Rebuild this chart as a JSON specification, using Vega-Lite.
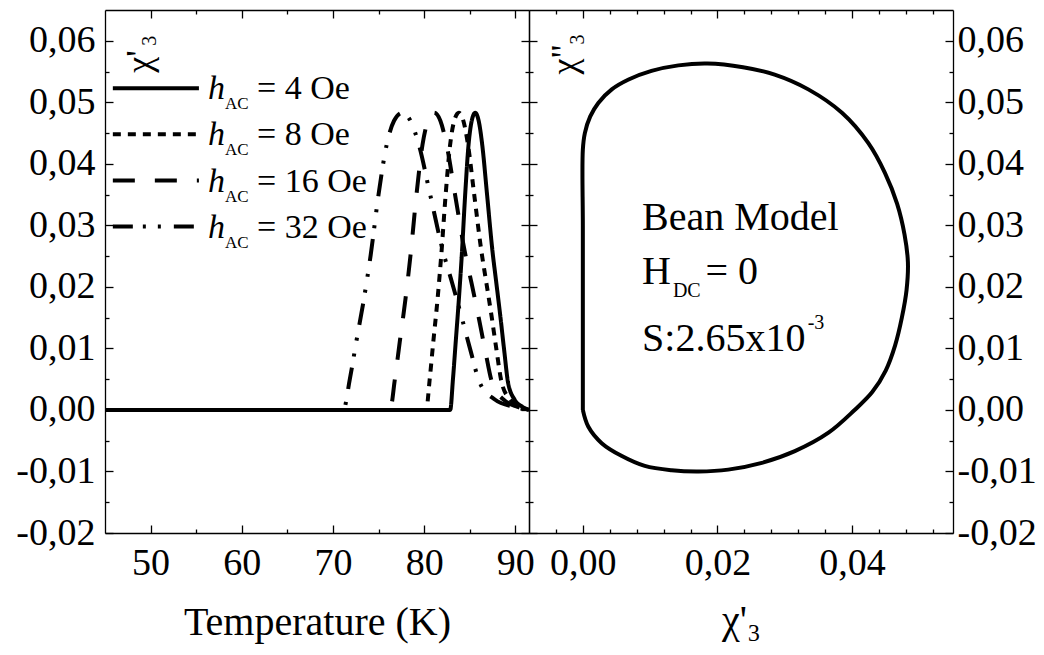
{
  "$schema": "https://vega.github.io/schema/vega-lite/v6.json",
  "background": "white",
  "padding": {"left": 15, "top": 9, "right": 2, "bottom": 2},
  "spacing": 0,
  "bounds": "flush",
  "config": {
    "view": {"stroke": null},
    "axis": {"grid": false, "domainColor": "black", "domainWidth": 1.3, "tickColor": "black", "tickWidth": 1.3,
      "labelOverlap": false, "labelFlush": false, "labelBound": false}
  },
  "datasets": {
    "curves": [
      {"s": "4 Oe", "T": 45, "v": 0}, {"s": "4 Oe", "T": 82.86, "v": 0}, {"s": "4 Oe", "T": 83.16, "v": 0.005}, {"s": "4 Oe", "T": 83.46, "v": 0.011}, {"s": "4 Oe", "T": 83.81, "v": 0.018}, {"s": "4 Oe", "T": 84.13, "v": 0.0252}, {"s": "4 Oe", "T": 84.5, "v": 0.035}, {"s": "4 Oe", "T": 84.87, "v": 0.0431}, {"s": "4 Oe", "T": 85.22, "v": 0.047}, {"s": "4 Oe", "T": 85.6, "v": 0.0483}, {"s": "4 Oe", "T": 85.98, "v": 0.047}, {"s": "4 Oe", "T": 86.37, "v": 0.0431}, {"s": "4 Oe", "T": 86.9, "v": 0.035}, {"s": "4 Oe", "T": 87.48, "v": 0.026}, {"s": "4 Oe", "T": 87.92, "v": 0.0206}, {"s": "4 Oe", "T": 88.36, "v": 0.0152}, {"s": "4 Oe", "T": 88.77, "v": 0.0098}, {"s": "4 Oe", "T": 89.21, "v": 0.0044}, {"s": "4 Oe", "T": 89.91, "v": 0.0017}, {"s": "4 Oe", "T": 90.79, "v": 0.0005}, {"s": "4 Oe", "T": 91.5, "v": 0},
      {"s": "8 Oe", "T": 45, "v": 0}, {"s": "8 Oe", "T": 80.22, "v": 0}, {"s": "8 Oe", "T": 80.61, "v": 0.005}, {"s": "8 Oe", "T": 81.0, "v": 0.011}, {"s": "8 Oe", "T": 81.47, "v": 0.018}, {"s": "8 Oe", "T": 81.88, "v": 0.0252}, {"s": "8 Oe", "T": 82.36, "v": 0.035}, {"s": "8 Oe", "T": 82.85, "v": 0.0431}, {"s": "8 Oe", "T": 83.3, "v": 0.047}, {"s": "8 Oe", "T": 83.8, "v": 0.0483}, {"s": "8 Oe", "T": 84.3, "v": 0.047}, {"s": "8 Oe", "T": 84.81, "v": 0.0431}, {"s": "8 Oe", "T": 85.49, "v": 0.035}, {"s": "8 Oe", "T": 86.26, "v": 0.026}, {"s": "8 Oe", "T": 86.83, "v": 0.0206}, {"s": "8 Oe", "T": 87.4, "v": 0.0152}, {"s": "8 Oe", "T": 87.93, "v": 0.0098}, {"s": "8 Oe", "T": 88.51, "v": 0.0044}, {"s": "8 Oe", "T": 89.42, "v": 0.0017}, {"s": "8 Oe", "T": 90.58, "v": 0.0005}, {"s": "8 Oe", "T": 91.5, "v": 0},
      {"s": "16 Oe", "T": 45, "v": 0}, {"s": "16 Oe", "T": 76.26, "v": 0}, {"s": "16 Oe", "T": 76.79, "v": 0.005}, {"s": "16 Oe", "T": 77.32, "v": 0.011}, {"s": "16 Oe", "T": 77.95, "v": 0.018}, {"s": "16 Oe", "T": 78.51, "v": 0.0252}, {"s": "16 Oe", "T": 79.16, "v": 0.035}, {"s": "16 Oe", "T": 79.82, "v": 0.0431}, {"s": "16 Oe", "T": 80.42, "v": 0.047}, {"s": "16 Oe", "T": 81.1, "v": 0.0483}, {"s": "16 Oe", "T": 81.78, "v": 0.047}, {"s": "16 Oe", "T": 82.46, "v": 0.0431}, {"s": "16 Oe", "T": 83.39, "v": 0.035}, {"s": "16 Oe", "T": 84.42, "v": 0.026}, {"s": "16 Oe", "T": 85.2, "v": 0.0206}, {"s": "16 Oe", "T": 85.96, "v": 0.0152}, {"s": "16 Oe", "T": 86.68, "v": 0.0098}, {"s": "16 Oe", "T": 87.46, "v": 0.0044}, {"s": "16 Oe", "T": 88.69, "v": 0.0017}, {"s": "16 Oe", "T": 90.25, "v": 0.0005}, {"s": "16 Oe", "T": 91.5, "v": 0},
      {"s": "32 Oe", "T": 45, "v": 0}, {"s": "32 Oe", "T": 71.14, "v": 0}, {"s": "32 Oe", "T": 71.85, "v": 0.005}, {"s": "32 Oe", "T": 72.55, "v": 0.011}, {"s": "32 Oe", "T": 73.39, "v": 0.018}, {"s": "32 Oe", "T": 74.14, "v": 0.0252}, {"s": "32 Oe", "T": 75.0, "v": 0.035}, {"s": "32 Oe", "T": 75.89, "v": 0.0431}, {"s": "32 Oe", "T": 76.7, "v": 0.047}, {"s": "32 Oe", "T": 77.6, "v": 0.0483}, {"s": "32 Oe", "T": 78.5, "v": 0.047}, {"s": "32 Oe", "T": 79.42, "v": 0.0431}, {"s": "32 Oe", "T": 80.66, "v": 0.035}, {"s": "32 Oe", "T": 82.03, "v": 0.026}, {"s": "32 Oe", "T": 83.08, "v": 0.0206}, {"s": "32 Oe", "T": 84.09, "v": 0.0152}, {"s": "32 Oe", "T": 85.06, "v": 0.0098}, {"s": "32 Oe", "T": 86.11, "v": 0.0044}, {"s": "32 Oe", "T": 87.75, "v": 0.0017}, {"s": "32 Oe", "T": 89.83, "v": 0.0005}, {"s": "32 Oe", "T": 91.5, "v": 0}
    ],
    "loop": [
      {"i": 0, "x": 0, "y": 0}, {"i": 1, "x": 0, "y": 0.015}, {"i": 2, "x": 0, "y": 0.03}, {"i": 3, "x": 0, "y": 0.0423},
      {"i": 4, "x": 0.0003, "y": 0.045}, {"i": 5, "x": 0.0011, "y": 0.0477}, {"i": 6, "x": 0.0023, "y": 0.0499}, {"i": 7, "x": 0.0043, "y": 0.0521},
      {"i": 8, "x": 0.0068, "y": 0.0537}, {"i": 9, "x": 0.0102, "y": 0.0551}, {"i": 10, "x": 0.0142, "y": 0.056}, {"i": 11, "x": 0.0185, "y": 0.0563},
      {"i": 12, "x": 0.0238, "y": 0.0557}, {"i": 13, "x": 0.0285, "y": 0.0545}, {"i": 14, "x": 0.0335, "y": 0.0521}, {"i": 15, "x": 0.0385, "y": 0.0483},
      {"i": 16, "x": 0.0424, "y": 0.0434}, {"i": 17, "x": 0.0449, "y": 0.0385}, {"i": 18, "x": 0.0467, "y": 0.0335}, {"i": 19, "x": 0.0478, "y": 0.0285},
      {"i": 20, "x": 0.0483, "y": 0.024}, {"i": 21, "x": 0.0481, "y": 0.0195}, {"i": 22, "x": 0.0474, "y": 0.015}, {"i": 23, "x": 0.0464, "y": 0.0105},
      {"i": 24, "x": 0.0450, "y": 0.0064}, {"i": 25, "x": 0.0430, "y": 0.0029}, {"i": 26, "x": 0.0403, "y": -0.0001}, {"i": 27, "x": 0.0365, "y": -0.0037},
      {"i": 28, "x": 0.0315, "y": -0.0067}, {"i": 29, "x": 0.0266, "y": -0.0086}, {"i": 30, "x": 0.0216, "y": -0.0097}, {"i": 31, "x": 0.0172, "y": -0.01},
      {"i": 32, "x": 0.0132, "y": -0.0098}, {"i": 33, "x": 0.0092, "y": -0.0091}, {"i": 34, "x": 0.0058, "y": -0.0075}, {"i": 35, "x": 0.0028, "y": -0.0054},
      {"i": 36, "x": 0.0008, "y": -0.0027}, {"i": 37, "x": 0, "y": 0}
    ]
  },
  "hconcat": [
    {
      "width": 424, "height": 523,
      "layer": [
        {
          "data": {"name": "curves"},
          "mark": {"type": "line", "strokeWidth": 4, "color": "black", "clip": true, "interpolate": "monotone"},
          "encoding": {
            "x": {"field": "T", "type": "quantitative", "scale": {"domain": [45, 91.5], "nice": false, "zero": false},
              "axis": {"orient": "bottom", "title": "Temperature (K)", "values": [50, 55, 60, 65, 70, 75, 80, 85, 90],
                "labelFont": "Liberation Serif", "labelFontSize": 38, "labelColor": "black",
                "titleFont": "Liberation Serif", "titleFontSize": 40, "titleFontWeight": "normal", "titleColor": "black",
                "tickSize": {"condition": {"test": "datum.value % 10 == 0", "value": -8}, "value": -4},
                "labelExpr": "datum.value % 10 == 0 ? datum.label : ''", "labelPadding": 19, "titlePadding": 16}},
            "y": {"field": "v", "type": "quantitative", "scale": {"domain": [-0.02, 0.065], "nice": false, "zero": false},
              "axis": {"orient": "left", "title": null, "values": [-0.02, -0.015, -0.01, -0.005, 0, 0.005, 0.01, 0.015, 0.02, 0.025, 0.03, 0.035, 0.04, 0.045, 0.05, 0.055, 0.06],
                "labelFont": "Liberation Serif", "labelFontSize": 38, "labelColor": "black",
                "tickSize": {"condition": {"test": "abs(datum.value*100-round(datum.value*100))<0.001", "value": -8}, "value": -4},
                "labelExpr": "abs(datum.value*100-round(datum.value*100))<0.001 ? (datum.value < -0.0001 ? '-' : '') + replace(format(abs(datum.value), '.2f'), '.', ',') : ''",
                "labelPadding": 18}},
            "strokeDash": {"field": "s", "type": "nominal", "legend": null,
              "scale": {"domain": ["4 Oe", "8 Oe", "16 Oe", "32 Oe"], "range": [[1, 0], [8, 7], [22, 20], [22, 11, 3, 13, 3, 13]]}}
          }
        },
        {
          "data": {"values": [{}]},
          "mark": {"type": "rule", "strokeWidth": 4, "color": "black"},
          "encoding": {
            "x": {"datum": 45.86, "type": "quantitative",
              "axis": {"orient": "top", "title": null, "labels": false, "values": [50, 55, 60, 65, 70, 75, 80, 85, 90],
                "tickSize": {"condition": {"test": "datum.value % 10 == 0", "value": -8}, "value": -4}}},
            "x2": {"datum": 55.3},
            "y": {"datum": 0.0523, "type": "quantitative",
              "axis": {"orient": "right", "title": null, "labels": false, "values": [-0.02, -0.015, -0.01, -0.005, 0, 0.005, 0.01, 0.015, 0.02, 0.025, 0.03, 0.035, 0.04, 0.045, 0.05, 0.055, 0.06],
                "tickSize": {"condition": {"test": "abs(datum.value*100-round(datum.value*100))<0.001", "value": -8}, "value": -4}}}
          }
        },
        {
          "data": {"values": [{}]},
          "mark": {"type": "rule", "strokeWidth": 4, "color": "black", "strokeDash": [8, 7]},
          "encoding": {"x": {"datum": 45.86, "type": "quantitative", "axis": null}, "x2": {"datum": 55.3}, "y": {"datum": 0.0448, "type": "quantitative", "axis": null}}
        },
        {
          "data": {"values": [{}]},
          "mark": {"type": "rule", "strokeWidth": 4, "color": "black", "strokeDash": [22, 20]},
          "encoding": {"x": {"datum": 45.86, "type": "quantitative", "axis": null}, "x2": {"datum": 55.3}, "y": {"datum": 0.0373, "type": "quantitative", "axis": null}}
        },
        {
          "data": {"values": [{}]},
          "mark": {"type": "rule", "strokeWidth": 4, "color": "black", "strokeDash": [20, 10, 3, 12, 3, 13]},
          "encoding": {"x": {"datum": 45.86, "type": "quantitative", "axis": null}, "x2": {"datum": 55.3}, "y": {"datum": 0.0298, "type": "quantitative", "axis": null}}
        },
        {
          "data": {"values": [{}]},
          "mark": {"type": "text", "text": ["h", "h", "h", "h"], "font": "Liberation Serif", "fontStyle": "italic", "fontSize": 34, "color": "black", "align": "left", "baseline": "alphabetic", "lineHeight": 46.2, "dy": 11},
          "encoding": {"x": {"datum": 56.29, "type": "quantitative", "axis": null}, "y": {"datum": 0.0523, "type": "quantitative", "axis": null}}
        },
        {
          "data": {"values": [{}]},
          "mark": {"type": "text", "text": ["AC", "AC", "AC", "AC"], "font": "Liberation Serif", "fontSize": 17, "color": "black", "align": "left", "baseline": "alphabetic", "lineHeight": 46.2, "dy": 21},
          "encoding": {"x": {"datum": 58.16, "type": "quantitative", "axis": null}, "y": {"datum": 0.0523, "type": "quantitative", "axis": null}}
        },
        {
          "data": {"values": [{}]},
          "mark": {"type": "text", "text": ["= 4 Oe", "= 8 Oe", "= 16 Oe", "= 32 Oe"], "font": "Liberation Serif", "fontSize": 34, "color": "black", "align": "left", "baseline": "alphabetic", "lineHeight": 46.2, "dy": 11},
          "encoding": {"x": {"datum": 61.67, "type": "quantitative", "axis": null}, "y": {"datum": 0.0523, "type": "quantitative", "axis": null}}
        },
        {
          "data": {"values": [{}]},
          "mark": {"type": "text", "text": "χ'", "font": "Liberation Serif", "fontSize": 36, "color": "black", "angle": 270, "align": "left", "baseline": "alphabetic"},
          "encoding": {"x": {"datum": 50.03, "type": "quantitative", "axis": null}, "y": {"datum": 0.0548, "type": "quantitative", "axis": null}}
        },
        {
          "data": {"values": [{}]},
          "mark": {"type": "text", "text": "3", "font": "Liberation Serif", "fontSize": 20, "color": "black", "angle": 270, "align": "left", "baseline": "alphabetic", "dx": 27, "dy": 5},
          "encoding": {"x": {"datum": 50.03, "type": "quantitative", "axis": null}, "y": {"datum": 0.0548, "type": "quantitative", "axis": null}}
        }
      ],
      "resolve": {"axis": {"x": "independent", "y": "independent"}}
    },
    {
      "width": 424, "height": 523,
      "layer": [
        {
          "data": {"name": "loop"},
          "mark": {"type": "line", "strokeWidth": 4, "color": "black", "clip": true, "interpolate": "catmull-rom"},
          "encoding": {
            "x": {"field": "x", "type": "quantitative", "scale": {"domain": [-0.008, 0.055], "nice": false, "zero": false},
              "axis": {"orient": "bottom", "title": "χ'₃", "values": [-0.004, 0, 0.004, 0.008, 0.012, 0.016, 0.02, 0.024, 0.028, 0.032, 0.036, 0.04, 0.044, 0.048, 0.052],
                "labelFont": "Liberation Serif", "labelFontSize": 38, "labelColor": "black",
                "titleFont": "Liberation Serif", "titleFontSize": 40, "titleFontWeight": "normal", "titleColor": "black",
                "tickSize": {"condition": {"test": "abs(datum.value*50-round(datum.value*50))<0.001", "value": -8}, "value": -4},
                "labelExpr": "abs(datum.value*50-round(datum.value*50))<0.001 ? replace(format(datum.value, '.2f'), '.', ',') : ''",
                "labelPadding": 19, "titlePadding": 14}},
            "y": {"field": "y", "type": "quantitative", "scale": {"domain": [-0.02, 0.065], "nice": false, "zero": false},
              "axis": {"orient": "right", "title": null, "values": [-0.02, -0.015, -0.01, -0.005, 0, 0.005, 0.01, 0.015, 0.02, 0.025, 0.03, 0.035, 0.04, 0.045, 0.05, 0.055, 0.06],
                "labelFont": "Liberation Serif", "labelFontSize": 38, "labelColor": "black",
                "tickSize": {"condition": {"test": "abs(datum.value*100-round(datum.value*100))<0.001", "value": -8}, "value": -4},
                "labelExpr": "abs(datum.value*100-round(datum.value*100))<0.001 ? (datum.value < -0.0001 ? '-' : '') + replace(format(abs(datum.value), '.2f'), '.', ',') : ''",
                "labelPadding": 12}},
            "order": {"field": "i", "type": "quantitative"}
          }
        },
        {
          "data": {"values": [{}]},
          "mark": {"type": "text", "text": "Bean Model", "font": "Liberation Serif", "fontSize": 40, "color": "black", "align": "left", "baseline": "alphabetic"},
          "encoding": {
            "x": {"datum": 0.0088, "type": "quantitative",
              "axis": {"orient": "top", "title": null, "labels": false, "values": [-0.004, 0, 0.004, 0.008, 0.012, 0.016, 0.02, 0.024, 0.028, 0.032, 0.036, 0.04, 0.044, 0.048, 0.052],
                "tickSize": {"condition": {"test": "abs(datum.value*50-round(datum.value*50))<0.001", "value": -8}, "value": -4}}},
            "y": {"datum": 0.0293, "type": "quantitative",
              "axis": {"orient": "left", "title": null, "labels": false, "values": [-0.02, -0.015, -0.01, -0.005, 0, 0.005, 0.01, 0.015, 0.02, 0.025, 0.03, 0.035, 0.04, 0.045, 0.05, 0.055, 0.06],
                "tickSize": {"condition": {"test": "abs(datum.value*100-round(datum.value*100))<0.001", "value": -8}, "value": -4}}}
          }
        },
        {
          "data": {"values": [{}]},
          "mark": {"type": "text", "text": "H", "font": "Liberation Serif", "fontSize": 40, "color": "black", "align": "left", "baseline": "alphabetic"},
          "encoding": {"x": {"datum": 0.0088, "type": "quantitative", "axis": null}, "y": {"datum": 0.0204, "type": "quantitative", "axis": null}}
        },
        {
          "data": {"values": [{}]},
          "mark": {"type": "text", "text": "DC", "font": "Liberation Serif", "fontSize": 20, "color": "black", "align": "left", "baseline": "alphabetic"},
          "encoding": {"x": {"datum": 0.01338, "type": "quantitative", "axis": null}, "y": {"datum": 0.0183, "type": "quantitative", "axis": null}}
        },
        {
          "data": {"values": [{}]},
          "mark": {"type": "text", "text": "= 0", "font": "Liberation Serif", "fontSize": 40, "color": "black", "align": "left", "baseline": "alphabetic"},
          "encoding": {"x": {"datum": 0.01823, "type": "quantitative", "axis": null}, "y": {"datum": 0.0204, "type": "quantitative", "axis": null}}
        },
        {
          "data": {"values": [{}]},
          "mark": {"type": "text", "text": "S:2.65x10", "font": "Liberation Serif", "fontSize": 40, "color": "black", "align": "left", "baseline": "alphabetic"},
          "encoding": {"x": {"datum": 0.0088, "type": "quantitative", "axis": null}, "y": {"datum": 0.0095, "type": "quantitative", "axis": null}}
        },
        {
          "data": {"values": [{}]},
          "mark": {"type": "text", "text": "-3", "font": "Liberation Serif", "fontSize": 20, "color": "black", "align": "left", "baseline": "alphabetic"},
          "encoding": {"x": {"datum": 0.0334, "type": "quantitative", "axis": null}, "y": {"datum": 0.0132, "type": "quantitative", "axis": null}}
        },
        {
          "data": {"values": [{}]},
          "mark": {"type": "text", "text": "χ\"", "font": "Liberation Serif", "fontSize": 36, "color": "black", "angle": 270, "align": "left", "baseline": "alphabetic"},
          "encoding": {"x": {"datum": -0.001, "type": "quantitative", "axis": null}, "y": {"datum": 0.0545, "type": "quantitative", "axis": null}}
        },
        {
          "data": {"values": [{}]},
          "mark": {"type": "text", "text": "3", "font": "Liberation Serif", "fontSize": 20, "color": "black", "angle": 270, "align": "left", "baseline": "alphabetic", "dx": 30, "dy": 8},
          "encoding": {"x": {"datum": -0.001, "type": "quantitative", "axis": null}, "y": {"datum": 0.0545, "type": "quantitative", "axis": null}}
        }
      ],
      "resolve": {"axis": {"x": "independent", "y": "independent"}}
    }
  ]
}
